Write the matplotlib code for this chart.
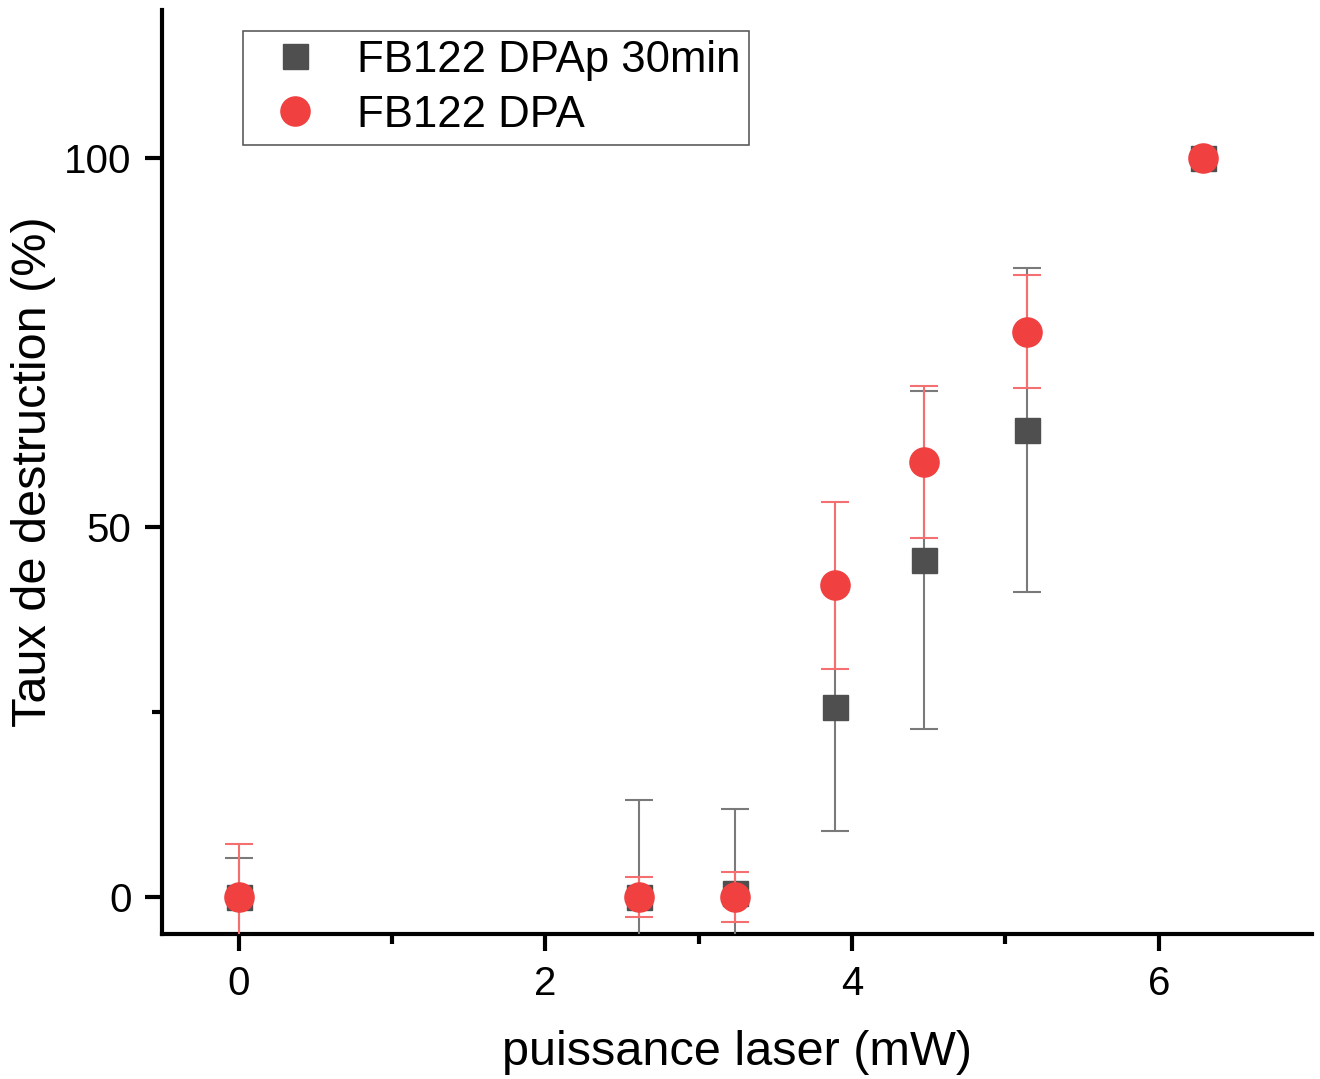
import numpy as np
import matplotlib.pyplot as plt

plt.rcParams['font.family'] = ['Liberation Sans', 'DejaVu Sans']

# puissance laser (mW)
x = [0, 2.61, 3.24, 3.89, 4.47, 5.14, 6.29]

# FB122 DPAp 30min
y_sq = [0, 0, 0.5, 25.7, 45.6, 63.2, 100]
err_sq = [5.3, 13.1, 11.4, 16.8, 22.9, 21.9, 0]

# FB122 DPA
y_ci = [0, 0, 0, 42.2, 58.9, 76.5, 100]
err_ci = [7.2, 2.7, 3.4, 11.3, 10.3, 7.6, 0]

fig = plt.figure(figsize=(13.2, 10.79), dpi=100)
ax = fig.add_axes([0.1227, 0.1344, 0.8713, 0.8563])

ax.errorbar(x, y_sq, yerr=err_sq, fmt='s', color='#4f4f4f', ms=18,
            ecolor='#7a7a7a', elinewidth=1.5, capsize=10, capthick=1.5,
            label='FB122 DPAp 30min', zorder=3)
ax.errorbar(x, y_ci, yerr=err_ci, fmt='o', color='#f04040', ms=21,
            ecolor='#f47070', elinewidth=1.5, capsize=10, capthick=1.5,
            label='FB122 DPA', zorder=4)

ax.set_xlim(-0.5, 7)
ax.set_ylim(-5, 120)
ax.set_xticks([0, 2, 4, 6])
ax.set_xticks([1, 3, 5], minor=True)
ax.set_yticks([0, 50, 100])
ax.set_yticks([25], minor=True)

for s in ['top', 'right']:
    ax.spines[s].set_visible(False)
for s in ['left', 'bottom']:
    ax.spines[s].set_linewidth(3)

ax.tick_params(which='major', direction='out', length=12, width=3,
               labelsize=29, pad=10)
ax.tick_params(which='minor', direction='out', length=7, width=3)

ax.set_xlabel('puissance laser (mW)', fontsize=35, labelpad=20)
ax.set_ylabel('Taux de destruction (%)', fontsize=35, labelpad=6)

handles, labels = ax.get_legend_handles_labels()
handles = [h[0] for h in handles]
leg = ax.legend(handles, labels, loc='upper left', bbox_to_anchor=(0.0704, 0.9773),
                fontsize=31.5, frameon=True, fancybox=False, edgecolor='#333333',
                handletextpad=0.4, borderpad=0.2, labelspacing=0.32,
                handlelength=2.0, markerscale=1.0, borderaxespad=0)
leg.get_frame().set_linewidth(1.2)

fig.savefig('out.png', dpi=100)
